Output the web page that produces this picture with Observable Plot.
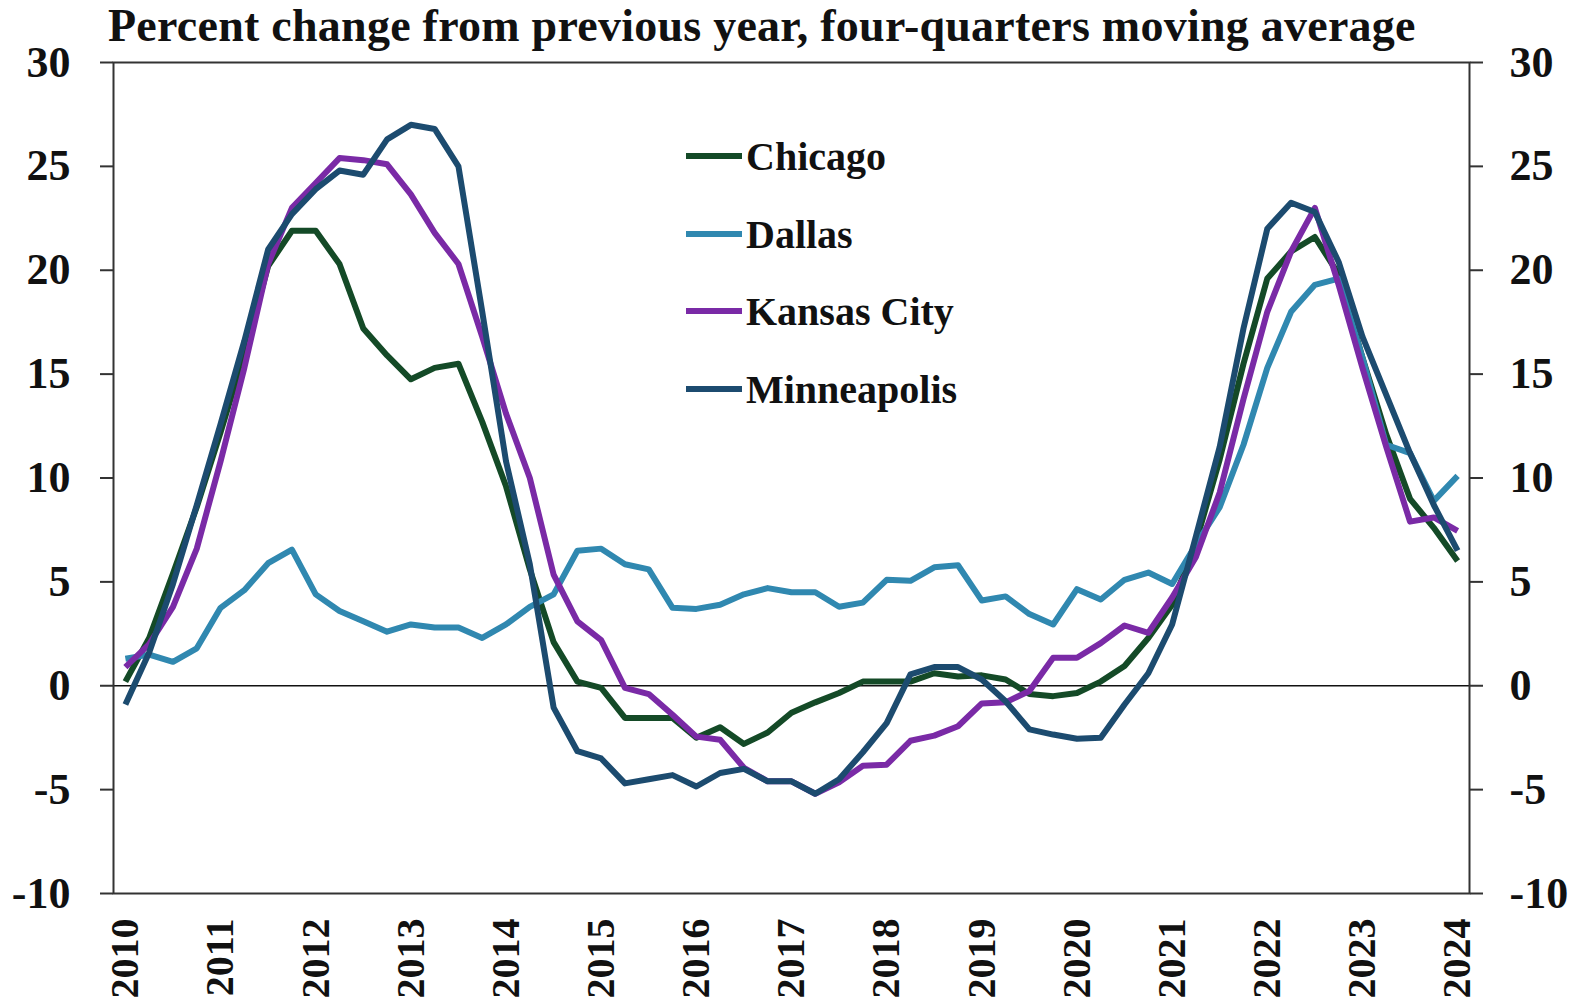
<!DOCTYPE html>
<html>
<head>
<meta charset="utf-8">
<script src="https://cdn.jsdelivr.net/npm/d3@7"></script>
<script src="https://cdn.jsdelivr.net/npm/@observablehq/plot@0.6"></script>
<style>
  html, body { margin: 0; padding: 0; background: #fff; }
  #wrap { position: relative; width: 1581px; height: 1002px; overflow: hidden; }
  #title { font-family: "Liberation Serif", "Times New Roman", serif; font-weight: bold; font-size: 46px;
           letter-spacing: 0.25px; line-height: 51px; height: 51px; padding: 0 0 0 108px; color: #111; white-space: nowrap; }
  #chart svg { overflow: visible; display: block; }
  #legend { position: absolute; left: 686px; top: 0; font-family: "Liberation Serif", "Times New Roman", serif;
            font-weight: bold; font-size: 40px; color: #111; }
  .item { position: absolute; left: 0; display: flex; align-items: center; white-space: nowrap; height: 44px; }
  .item svg { display: block; margin-right: 4px; }
</style>
</head>
<body>
<div id="wrap">
  <div id="title">Percent change from previous year, four-quarters moving average</div>
  <div id="chart"></div>
  <div id="legend"></div>
</div>
<script>
const cities = ["Chicago", "Dallas", "Kansas City", "Minneapolis"];
const colors = ["#144a27", "#3088b0", "#7a2aa6", "#1c4b6f"];
const years = [2010, 2011, 2012, 2013, 2014, 2015, 2016, 2017, 2018, 2019, 2020, 2021, 2022, 2023, 2024];
const yTicks = [-10, -5, 0, 5, 10, 15, 20, 25, 30];

// quarterly values, 2010Q1 .. 2024Q1
const chicago = [0.2, 2.3, 5.4, 8.6, 12.2, 16.0, 20.2, 21.9, 21.9, 20.3, 17.2, 15.9, 14.75, 15.3, 15.5,
  12.7, 9.6, 5.6, 2.1, 0.2, -0.1, -1.55, -1.55, -1.55, -2.5, -2.0, -2.8, -2.25, -1.3, -0.8, -0.35,
  0.2, 0.2, 0.2, 0.6, 0.45, 0.5, 0.3, -0.4, -0.5, -0.35, 0.2, 0.95, 2.3, 3.9, 6.9, 10.9, 15.5,
  19.6, 20.9, 21.6, 19.8, 15.8, 12.1, 9.0, 7.6, 6.0];
const dallas = [1.3, 1.5, 1.15, 1.8, 3.75, 4.6, 5.9, 6.55, 4.4, 3.6, 3.1, 2.6, 2.95, 2.8, 2.8,
  2.3, 2.95, 3.8, 4.4, 6.5, 6.6, 5.85, 5.6, 3.75, 3.7, 3.9, 4.4, 4.7, 4.5, 4.5, 3.8,
  4.0, 5.1, 5.05, 5.7, 5.8, 4.1, 4.3, 3.45, 2.95, 4.65, 4.15, 5.1, 5.45, 4.9, 6.8, 8.6, 11.6,
  15.3, 18.0, 19.3, 19.6, 15.8, 11.6, 11.2, 8.9, 10.1];
const kansasCity = [0.9, 2.0, 3.8, 6.6, 10.8, 15.3, 20.3, 23.0, 24.2, 25.4, 25.3, 25.1, 23.65, 21.8, 20.3,
  16.8, 13.1, 10.0, 5.35, 3.1, 2.2, -0.1, -0.4, -1.4, -2.45, -2.6, -3.95, -4.6, -4.6, -5.2, -4.65,
  -3.85, -3.8, -2.65, -2.4, -1.95, -0.85, -0.8, -0.25, 1.35, 1.35, 2.05, 2.9, 2.55, 4.25, 6.2, 9.3, 13.8,
  18.0, 20.9, 23.0, 19.3, 15.3, 11.5, 7.9, 8.1, 7.45];
const minneapolis = [-0.9, 1.6, 4.9, 8.7, 12.6, 16.6, 21.0, 22.7, 23.9, 24.8, 24.6, 26.3, 27.0, 26.8, 25.0,
  18.0, 10.8, 5.85, -1.05, -3.15, -3.5, -4.7, -4.5, -4.3, -4.85, -4.2, -4.0, -4.6, -4.6, -5.2, -4.5,
  -3.2, -1.8, 0.55, 0.9, 0.9, 0.3, -0.75, -2.1, -2.35, -2.55, -2.5, -0.9, 0.6, 2.95, 7.2, 11.5, 17.2,
  22.0, 23.25, 22.8, 20.4, 16.8, 14.0, 11.2, 8.7, 6.5];

const seriesValues = [chicago, dallas, kansasCity, minneapolis];
const data = [];
cities.forEach((c, k) => seriesValues[k].forEach((v, i) => data.push({city: c, q: i, value: v})));
const yearTickPos = years.map((y, k) => k * 4);

const axisStyle = {fontFamily: "Liberation Serif", fontWeight: "bold", fill: "#111"};

const chart = Plot.plot({
  width: 1581,
  height: 951,
  marginTop: 11,
  marginBottom: 109,
  marginLeft: 113,
  marginRight: 112,
  style: {fontFamily: "Liberation Serif, serif", fontWeight: "bold", color: "#111", background: "transparent"},
  x: {domain: [-0.5, 56.5], axis: null, label: null},
  y: {domain: [-10, 30], axis: null, label: null},
  color: {domain: cities, range: colors},
  marks: [
    Plot.ruleY([0], {stroke: "#111", strokeWidth: 1.5}),
    Plot.lineY(data, {x: "q", y: "value", z: "city", stroke: "city", strokeWidth: 6, strokeLinejoin: "round", strokeLinecap: "butt"}),
    Plot.frame({stroke: "#333", strokeWidth: 2}),
    Plot.axisY({anchor: "left", ticks: yTicks, tickFormat: (d) => String(d), label: null, tickSize: 13, tickPadding: 30, fontSize: 44, stroke: "#333", strokeWidth: 2, ...axisStyle}),
    Plot.axisY({anchor: "right", ticks: yTicks, tickFormat: (d) => String(d), label: null, tickSize: 13, tickPadding: 27, fontSize: 44, stroke: "#333", strokeWidth: 2, ...axisStyle}),
    Plot.axisX({ticks: yearTickPos, tickFormat: (d) => String(years[d / 4]), label: null, tickRotate: -90, tickSize: 0, tickPadding: 25, fontSize: 40, ...axisStyle})
  ]
});
document.getElementById("chart").appendChild(chart);

// legend (inside the plot area, as in the original)
const legendTops = [134, 212, 289, 367];
const legend = document.getElementById("legend");
cities.forEach((c, k) => {
  const item = document.createElement("div");
  item.className = "item";
  item.style.top = legendTops[k] + "px";
  item.innerHTML = `<svg width="56" height="10"><line x1="1" y1="5" x2="55" y2="5" stroke="${colors[k]}" stroke-width="6" stroke-linecap="round"/></svg><span>${c}</span>`;
  legend.appendChild(item);
});
</script>
</body>
</html>
